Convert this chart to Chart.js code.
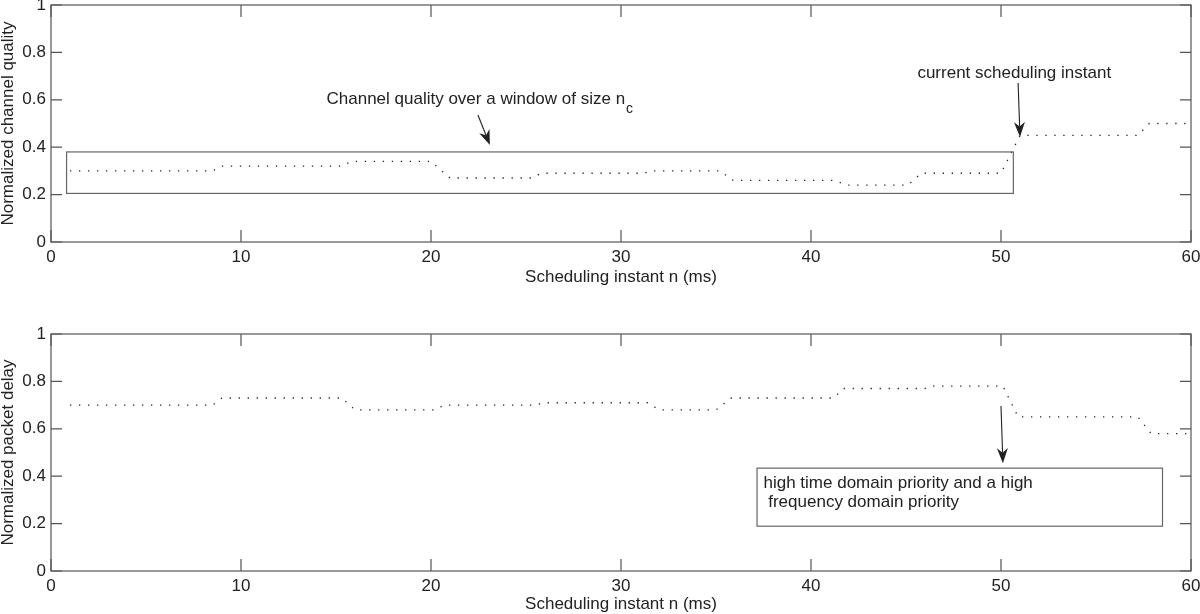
<!DOCTYPE html>
<html><head><meta charset="utf-8">
<script src="https://cdn.jsdelivr.net/npm/chart.js@4.4.1/dist/chart.umd.min.js"></script>
<style>
html,body{margin:0;padding:0;background:#fff;}
#wrap{position:relative;width:1200px;height:614px;overflow:hidden;}
.pane{position:absolute;left:0;width:1200px;}
</style></head><body>
<div id="wrap">
  <div class="pane" style="top:0;height:300px"><canvas id="cq" width="1200" height="300"></canvas></div>
  <div class="pane" style="top:300px;height:314px"><canvas id="pd" width="1200" height="314"></canvas></div>
</div>
<script>
// axes
const xTicks = [0,10,20,30,40,50,60];
const yTicks = [0,0.2,0.4,0.6,0.8,1];
const xTitle = 'Scheduling instant n (ms)';

// normalized channel quality (top)
const cqX = [1,8.5,9,15.3,15.8,20,21,25.3,25.8,31.2,31.6,35.2,35.9,41.2,41.9,45.1,45.8,50,50.5,51,57.2,57.8,60];
const cqY = [0.30,0.30,0.32,0.32,0.34,0.34,0.27,0.27,0.29,0.29,0.30,0.30,0.26,0.26,0.24,0.24,0.29,0.29,0.37,0.45,0.45,0.50,0.50];

// normalized packet delay (bottom)
const pdX = [1,8.5,9,15.3,16,20.2,20.7,25.5,25.9,31.4,32,35,35.8,41.2,41.7,46,46.3,50.1,50.9,57.2,57.9,60];
const pdY = [0.70,0.70,0.73,0.73,0.68,0.68,0.70,0.70,0.71,0.71,0.68,0.68,0.73,0.73,0.77,0.77,0.78,0.78,0.65,0.65,0.58,0.58];

const FONT = '"Liberation Sans", Arial, Helvetica, sans-serif';
const INK  = '#222';
const EDGE = '#555';

// annotations, in data units
const cqNotes = [
  {box:[0.82,50.65,0.205,0.38]},
  {text:'Channel quality over a window of size n', sub:'c', x:14.5, y:0.60},
  {arrow:[22.47,0.536,23.1,0.409]},
  {text:'current scheduling instant', x:45.6, y:0.713},
  {arrow:[50.9,0.671,51.0,0.443]}
];
const pdNotes = [
  {box:[37.16,58.5,0.189,0.434]},
  {text:'high time domain priority and a high', x:37.5, y:0.37},
  {text:' frequency domain priority', x:37.5, y:0.29},
  {arrow:[50.0,0.696,50.1,0.455]}
];

const frame = {
  id:'frame',
  afterDatasetsDraw(ch,args,opts){
    const {ctx,chartArea:a,scales:{x,y}} = ch;
    ctx.save();
    ctx.strokeStyle=EDGE; ctx.lineWidth=1.2;
    ctx.strokeRect(a.left,a.top,a.right-a.left,a.bottom-a.top);
    ctx.beginPath();
    xTicks.forEach(v=>{const px=x.getPixelForValue(v);ctx.moveTo(px,a.bottom);ctx.lineTo(px,a.bottom-12);ctx.moveTo(px,a.top);ctx.lineTo(px,a.top+12);});
    yTicks.forEach(v=>{const py=y.getPixelForValue(v);ctx.moveTo(a.left,py);ctx.lineTo(a.left+11,py);ctx.moveTo(a.right,py);ctx.lineTo(a.right-11,py);});
    ctx.stroke();

    (opts.notes||[]).forEach(n=>{
      if(n.box){
        const [x0,x1,y0,y1]=n.box;
        ctx.strokeStyle='#666'; ctx.lineWidth=1.2;
        const l=x.getPixelForValue(x0),r=x.getPixelForValue(x1),t=y.getPixelForValue(y1),b=y.getPixelForValue(y0);
        ctx.strokeRect(l,t,r-l,b-t);
      }
      if(n.text){
        const px=x.getPixelForValue(n.x),py=y.getPixelForValue(n.y);
        ctx.fillStyle=INK; ctx.textAlign='left'; ctx.textBaseline='middle';
        ctx.font='17px '+FONT;
        ctx.fillText(n.text,px,py);
        if(n.sub){
          const w=ctx.measureText(n.text).width;
          ctx.font='14px '+FONT;
          ctx.fillText(n.sub,px+w+1,py+9);
        }
      }
      if(n.arrow){
        const [x0,y0,x1,y1]=n.arrow;
        const ax=x.getPixelForValue(x0),ay=y.getPixelForValue(y0),bx=x.getPixelForValue(x1),by=y.getPixelForValue(y1);
        const ang=Math.atan2(by-ay,bx-ax),L=15,W=5.5;
        ctx.strokeStyle=INK; ctx.lineWidth=1.1;
        ctx.beginPath();ctx.moveTo(ax,ay);ctx.lineTo(bx-Math.cos(ang)*L*0.7,by-Math.sin(ang)*L*0.7);ctx.stroke();
        ctx.save();ctx.translate(bx,by);ctx.rotate(ang);
        ctx.fillStyle=INK;ctx.beginPath();
        ctx.moveTo(0,0);ctx.lineTo(-L,-W);ctx.lineTo(-L*0.7,0);ctx.lineTo(-L,W);ctx.closePath();ctx.fill();
        ctx.restore();
      }
    });
    ctx.restore();
  }
};

const mk = (id, xs, ys, yTitle, padTop, axisH, titlePad, notes) => new Chart(document.getElementById(id),{
  type:'line',
  data:{datasets:[{
    data:xs.map((v,i)=>({x:v,y:ys[i]})),
    borderColor:INK, borderWidth:1.3, borderDash:[1.3,7.7],
    pointRadius:0, tension:0, fill:false
  }]},
  options:{
    responsive:false, animation:false,
    layout:{padding:{top:padTop,right:9,left:0,bottom:0}},
    plugins:{legend:{display:false},tooltip:{enabled:false},frame:{notes}},
    scales:{
      x:{type:'linear',min:0,max:60,
        afterFit:s=>{s.height=axisH;s.paddingLeft=0;s.paddingRight=0;},
        afterBuildTicks:s=>{s.ticks=xTicks.map(v=>({value:v}));},
        grid:{display:false,drawTicks:false},border:{display:false},
        ticks:{color:INK,padding:5,font:{family:FONT,size:17},maxRotation:0},
        title:{display:true,text:xTitle,color:INK,font:{family:FONT,size:17,lineHeight:1},padding:{top:0,bottom:titlePad}}},
      y:{min:0,max:1,
        afterFit:s=>{s.width=51;s.paddingTop=0;s.paddingBottom=0;},
        afterBuildTicks:s=>{s.ticks=yTicks.map(v=>({value:v}));},
        grid:{display:false,drawTicks:false},border:{display:false},
        ticks:{color:INK,padding:5,font:{family:FONT,size:17},callback:v=>String(+(+v).toFixed(1))},
        title:{display:true,text:yTitle,color:INK,font:{family:FONT,size:17,lineHeight:1},padding:{top:0,bottom:0}}}
    }
  },
  plugins:[frame]
});

mk('cq',cqX,cqY,'Normalized channel quality',5,58,14,cqNotes);
mk('pd',pdX,pdY,'Normalized packet delay',34,43,1,pdNotes);
</script>
</body></html>
